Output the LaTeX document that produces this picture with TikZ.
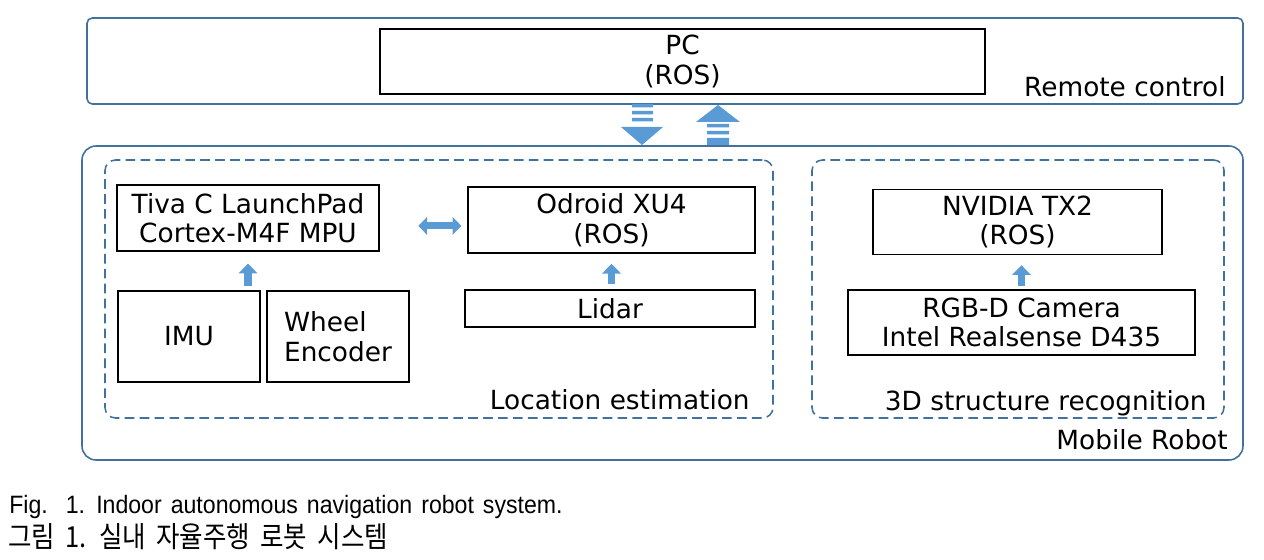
\documentclass[tikz,border=0pt]{standalone}
\usepackage{fontspec}
\setmainfont{DejaVu Sans}
\newfontfamily\capfont[FakeStretch=0.92, WordSpace=1.4]{Liberation Sans}
\newfontfamily\kofont[FakeStretch=0.88, WordSpace=1.8]{Noto Sans CJK KR}
\usetikzlibrary{arrows.meta,positioning,fit}

\definecolor{frame}{RGB}{65,113,156}
\definecolor{arrowblue}{RGB}{91,155,213}

\begin{document}
\begin{tikzpicture}[
    x=0.02cm, y=-0.02cm,
    box/.style={draw, line width=0.8pt, fill=white, align=center, inner sep=0pt,
                font=\fontsize{15}{16.8}\selectfont},
    group/.style={draw=frame, line width=0.9pt, inner sep=0pt},
    dgroup/.style={group, dash pattern=on 5.5pt off 3pt, rounded corners=6pt},
    lbl/.style={anchor=base east, inner sep=0pt, font=\fontsize{15}{16.8}\selectfont},
    blk/.style={arrowblue, line width=4.5pt, -{Triangle[width=10.5pt,length=5.5pt]}},
    dblk/.style={arrowblue, line width=4pt, {Triangle[width=10pt,length=5pt]}-{Triangle[width=10pt,length=5pt]}}
]
    \useasboundingbox (0,0) rectangle (1264,560);

    % remote side
    \node[group, rounded corners=3pt, fit={(87,18) (1243,104)}] (remote) {};
    \node[box, minimum width=12.1cm, minimum height=1.3cm] (pc) at (682.5,61.5) {PC\\(ROS)};
    \node[lbl] at (1226,97) {Remote control};

    % robot side
    \node[group, rounded corners=8pt, fit={(82,146) (1243,460)}] (robot) {};
    \node[lbl] at (1228,449) {Mobile Robot};

    \node[dgroup, fit={(105,160) (773,418)}] (loc) {};
    \node[lbl] at (750,409) {Location estimation};
    \node[dgroup, fit={(812,160) (1224,418)}] (rec) {};
    \node[lbl] at (1207,410) {3D structure recognition};

    % location estimation
    \node[box, minimum width=5.24cm, minimum height=1.32cm] (tiva) at (248,218) {Tiva C LaunchPad\\Cortex-M4F MPU};
    \node[box, minimum width=5.74cm, minimum height=1.32cm] (odroid) at (611.5,220) {Odroid XU4\\(ROS)};
    \node[box, minimum width=2.84cm, minimum height=1.82cm] (imu) at (189,336.5) {IMU};
    \node[box, align=left, minimum width=2.84cm, minimum height=1.82cm] (wheel) at (338,336.5) {Wheel\\Encoder};
    \node[box, minimum width=5.8cm, minimum height=0.74cm] (lidar) at (610,308.5) {Lidar};

    % 3D structure recognition
    \node[box, minimum width=5.78cm, minimum height=1.3cm] (nvidia) at (1017.5,222) {NVIDIA TX2\\(ROS)};
    \node[box, minimum width=6.94cm, minimum height=1.3cm] (rgbd) at (1021.5,322.5) {RGB-D Camera\\Intel Realsense D435};

    % links inside the robot
    \draw[blk, shorten <=2.3pt, shorten >=6.8pt] (imu.north -| tiva.south) -- (tiva.south);
    \draw[blk, shorten <=2.8pt, shorten >=5.8pt] (lidar.north -| odroid.south) -- (odroid.south);
    \draw[blk, shorten <=1.7pt, shorten >=5.7pt] (rgbd.north) -- (rgbd.north |- nvidia.south);
    \draw[dblk, shorten <=22pt, shorten >=3.4pt] ([yshift=-4.5pt]tiva.east) -- ([yshift=-4.5pt]tiva.east -| odroid.west);

    % striped arrows between PC and robot
    \coordinate (dn) at (642,103);
    \coordinate (up) at (718,105);
    \fill[arrowblue] (dn) ++(-10,1) rectangle ++(21,3.5)
                     (dn) ++(-10,8) rectangle ++(21,3.5)
                     (dn) ++(-10,15) rectangle ++(21,3.5)
                     (dn) ++(-21,24) -- ++(42,0) -- ++(-21,18) -- cycle;
    \fill[arrowblue] (up) -- ++(22,17) -- ++(-44,0) -- cycle
                     (up) ++(-11,19) rectangle ++(22,3.5)
                     (up) ++(-11,26) rectangle ++(22,3.5)
                     (up) ++(-11,33) rectangle ++(22,7);

    % caption
    \node[anchor=base west, inner sep=0pt, font=\capfont\fontsize{14.3}{17}\selectfont] (cap) at (9,513)
        {Fig.\ \ 1. Indoor autonomous navigation robot system.};
    \node[anchor=base west, inner sep=0pt, font=\kofont\fontsize{16.5}{19}\selectfont] (capko) at (8,547)
        {그림 1. 실내 자율주행 로봇 시스템};
\end{tikzpicture}
\end{document}
